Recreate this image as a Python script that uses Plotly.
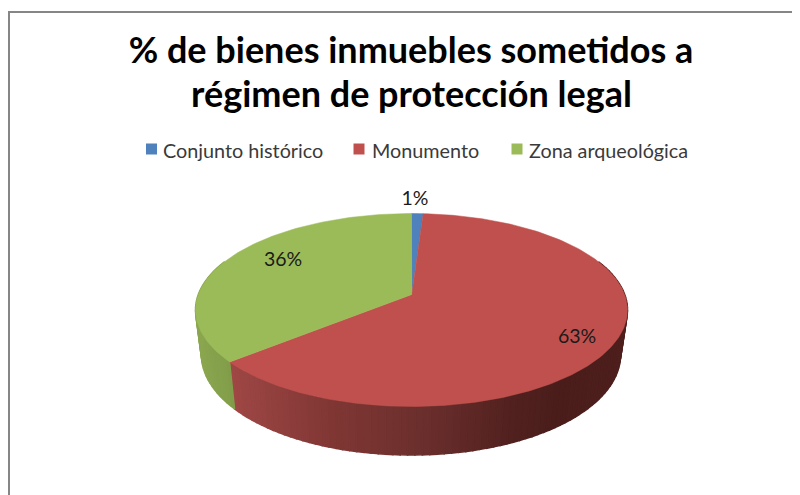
import math
import plotly.graph_objects as go

# Data
categories = ["Conjunto histórico", "Monumento", "Zona arqueológica"]
values = [1, 63, 36]

# Styling / layout (page pixels of the 800x495 window; the page has an 8px body margin)
OFF = 8
W, H = 800 - OFF, 495 - OFF
top_colors = ["#4F81BD", "#C0504D", "#9BBB59"]
title_lines = ["% de bienes inmuebles sometidos a", "régimen de protección legal"]
label_pos = [(415, 200), (577, 338.5), (283, 261)]
legend_marker_x = [151.5, 359, 517]
legend_text_x = [162, 371, 528]
LEGEND_Y = 149
side_stops = {
    1: [(225, (160, 72, 70)), (330, (128, 55, 52)), (430, (105, 46, 44)), (510, (82, 33, 31)), (560, (74, 29, 27)), (640, (78, 31, 29))],
    2: [(190, (140, 168, 80)), (240, (126, 154, 72))],
    0: [(0, (60, 98, 142)), (800, (60, 98, 142))],
}
TOP = dict(cx=411.5, cy=310, rx=216, ry=96.5)
BOT = dict(cx=411.0, cy=355, rx=209.5, ry=100)
HUB = (411.7, 294.5)
K = 0.86  # perspective squeeze of the rim angles


def rim_angle(theta):
    t = theta % 360
    half = math.atan(K * math.tan(math.radians(t / 2)))
    phi = math.degrees(half) * 2
    if phi < 0:
        phi += 360
    return phi


def rim(phi, e):
    a = math.radians(phi)
    return e["cx"] + e["rx"] * math.sin(a), e["cy"] - e["ry"] * math.cos(a)


def side_color(i, x):
    stops = side_stops[i]
    if x <= stops[0][0]:
        c = stops[0][1]
    elif x >= stops[-1][0]:
        c = stops[-1][1]
    else:
        for (x0, c0), (x1, c1) in zip(stops, stops[1:]):
            if x0 <= x <= x1:
                f = (x - x0) / (x1 - x0)
                c = tuple(c0[k] + f * (c1[k] - c0[k]) for k in range(3))
                break
    return "rgb(%d,%d,%d)" % tuple(round(v) for v in c)


total = sum(values)
edges = [0.0]
for v in values:
    edges.append(edges[-1] + v / total * 360)
phis = [rim_angle(t) for t in edges[:-1]] + [360.0]

fig = go.Figure()

# Side wall strips, drawn first so the top face covers the back half
for i in range(len(values)):
    a0, a1 = phis[i], phis[i + 1]
    if a1 <= 60 or a0 >= 300:
        continue
    a0, a1 = max(a0, 60), min(a1, 300)
    n = max(2, int((a1 - a0) / 2))
    for j in range(n):
        p0 = a0 + (a1 - a0) * j / n
        p1 = a0 + (a1 - a0) * (j + 1) / n
        pts = [rim(p0, TOP), rim(p1, TOP), rim(p1, BOT), rim(p0, BOT), rim(p0, TOP)]
        col = side_color(i, (pts[0][0] + pts[1][0]) / 2)
        fig.add_trace(go.Scatter(
            x=[p[0] for p in pts], y=[p[1] for p in pts], mode="lines",
            fill="toself", fillcolor=col, line=dict(color=col, width=1.5),
            showlegend=False, hoverinfo="skip"))

# Top face wedges
for i, cat in enumerate(categories):
    a0, a1 = phis[i], phis[i + 1]
    n = max(2, int((a1 - a0) / 1))
    pts = [HUB] + [rim(a0 + (a1 - a0) * j / n, TOP) for j in range(n + 1)] + [HUB]
    fig.add_trace(go.Scatter(
        x=[p[0] for p in pts], y=[p[1] for p in pts], mode="lines",
        fill="toself", fillcolor=top_colors[i],
        line=dict(color=top_colors[i], width=0.5),
        showlegend=False, name=cat, hoverinfo="skip"))

# Data labels
fig.add_trace(go.Scatter(
    x=[p[0] for p in label_pos], y=[p[1] for p in label_pos], mode="text",
    text=[f"{v}%" for v in values], textposition="middle center",
    textfont=dict(family="Lato, sans-serif", size=19.5, color="#1a1a1a"),
    showlegend=False, hoverinfo="skip"))

# Legend row: square swatches and their names
for cat, col, mx in zip(categories, top_colors, legend_marker_x):
    fig.add_trace(go.Scatter(
        x=[mx], y=[LEGEND_Y], mode="markers", name=cat,
        marker=dict(symbol="square", size=11, color=col),
        showlegend=False, hoverinfo="skip"))

legend_annotations = [
    dict(text=cat, xref="x", yref="y", x=tx, y=LEGEND_Y + 0.5, xanchor="left", yanchor="middle",
         showarrow=False, xshift=-1,
         font=dict(family="Lato, sans-serif", size=19.8, color="#3a3a3a"))
    for cat, tx in zip(categories, legend_text_x)
]

fig.update_layout(
    width=W, height=H, margin=dict(l=0, r=0, t=0, b=0),
    paper_bgcolor="white", plot_bgcolor="white",
    xaxis=dict(range=[OFF, 800], visible=False, fixedrange=True),
    yaxis=dict(range=[495, OFF], visible=False, fixedrange=True),
    title=dict(text=title_lines[0], x=(411 - OFF) / W, xanchor="center",
               y=1 - (38 - OFF) / H, yanchor="top",
               font=dict(family="Lato, sans-serif", size=36, color="black", weight="bold")),
    annotations=[dict(text=title_lines[1], xref="x", yref="y", x=411, y=93,
                      xanchor="center", yanchor="middle", showarrow=False,
                      font=dict(family="Lato, sans-serif", size=36, color="black", weight="bold"))]
                + legend_annotations,
    shapes=[
        dict(type="line", xref="x", yref="y", x0=9, x1=9, y0=11, y1=495, line=dict(color="#868686", width=2)),
        dict(type="line", xref="x", yref="y", x0=8, x1=800, y0=12, y1=12, line=dict(color="#868686", width=2)),
    ],
)

fig.write_html("out.html")
